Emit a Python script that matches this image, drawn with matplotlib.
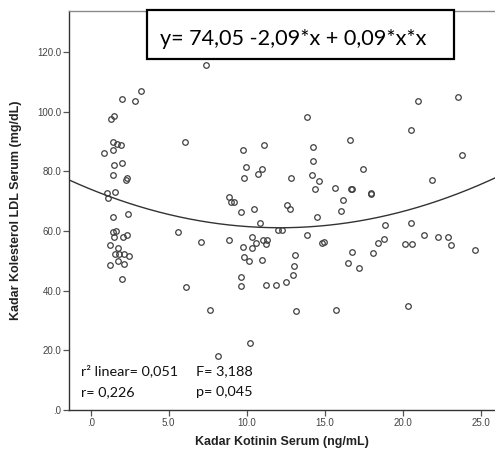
import matplotlib
matplotlib.use("Agg")
import matplotlib.pyplot as plt
from matplotlib.patches import Rectangle
import numpy as np

# --- data ---
kotinin = [
    3.2, 2.82, 1.99, 1.28, 1.51, 0.87, 1.41, 1.67, 1.96, 1.41,
    1.49, 1.99, 1.43, 2.24, 2.30, 1.06, 1.11, 1.58, 1.45, 2.41,
    1.41, 1.60, 1.51, 2.05, 2.33, 1.26, 1.73, 1.54, 1.83, 2.15,
    2.44, 1.77, 1.26, 2.15, 2.03,
    7.37, 6.06, 5.62, 6.09, 7.08, 7.66, 8.86, 8.14, 9.78, 9.83,
    10.12, 9.65, 9.61, 10.2, 9.78, 9.96, 9.85, 10.7, 10.96, 8.84,
    8.97, 9.18, 9.62, 10.47, 10.88, 10.36, 10.6, 10.36, 10.98, 11.07,
    11.28, 11.24, 11.11, 13.85, 14.23, 16.62, 14.27, 17.44, 12.82, 14.21,
    14.63, 14.4, 15.64, 16.71, 16.75, 17.95, 18.0, 16.19, 16.03, 12.56,
    12.78, 14.53, 12.03, 12.28, 13.87, 14.8, 14.97, 13.13, 13.03, 12.95,
    12.52, 11.86, 11.22, 13.16, 15.7, 16.77, 16.47, 17.18, 18.12, 18.44,
    18.82, 18.85, 20.55, 20.15, 20.58, 21.37, 22.26, 22.88, 23.08, 24.65,
    20.34, 21.0, 23.56, 20.53, 23.78, 21.88,
]
ldl = [
    106.9, 103.5, 104.1, 97.5, 98.5, 86.0, 89.7, 89.0, 88.9, 87.0,
    82.1, 82.6, 78.6, 77.2, 77.6, 72.6, 71.0, 73.0, 64.8, 65.6,
    59.7, 60.0, 58.1, 58.1, 58.5, 55.2, 54.4, 52.3, 52.3, 52.3,
    51.6, 50.0, 48.6, 48.8, 44.0,
    115.7, 89.9, 59.6, 41.1, 56.4, 33.5, 56.8, 18.2, 54.7, 51.2,
    49.9, 44.7, 41.5, 22.6, 87.1, 81.5, 77.6, 79.1, 80.6, 71.5,
    69.6, 69.7, 66.3, 67.4, 62.6, 58.1, 56.0, 54.3, 50.2, 56.8,
    56.8, 55.6, 88.7, 98.1, 88.2, 90.6, 83.4, 80.6, 77.6, 78.7,
    76.8, 73.9, 74.4, 73.9, 74.0, 72.6, 72.4, 70.4, 66.7, 68.6,
    67.2, 64.7, 60.3, 60.3, 58.6, 55.8, 56.2, 52.0, 48.2, 45.2,
    43.0, 42.0, 41.9, 33.3, 33.5, 52.9, 49.3, 47.7, 52.5, 56.1,
    57.2, 62.1, 62.5, 55.5, 55.5, 58.7, 58.1, 58.1, 55.2, 53.6,
    34.8, 103.7, 105.0, 93.9, 85.4, 77.2,
]

# quadratic fit curve as drawn (coefficients)
fit_a, fit_b, fit_c = 73.97, -2.127, 0.0877

x_ticks = [0, 5, 10, 15, 20, 25]
x_tick_labels = [".0", "5.0", "10.0", "15.0", "20.0", "25.0"]
y_ticks = [0, 20, 40, 60, 80, 100, 120]
y_tick_labels = [".0", "20.0", "40.0", "60.0", "80.0", "100.0", "120.0"]

equation_text = "y= 74,05 -2,09*x + 0,09*x*x"
stat_r2 = "r² linear= 0,051"
stat_r = "r= 0,226"
stat_F = "F= 3,188"
stat_p = "p= 0,045"

# --- figure ---
W, H = 495, 454
fig = plt.figure(figsize=(W / 100, H / 100), dpi=100)
ax = fig.add_axes([69 / W, (H - 410) / H, (W - 69) / W, (410 - 11) / H])

xmin, xmax = -1.39, 25.92
ymin, ymax = 0, 133.7
ax.set_xlim(xmin, xmax)
ax.set_ylim(ymin, ymax)

ax.plot(kotinin, ldl, linestyle="none", marker="o", markersize=4.0,
        markerfacecolor="none", markeredgecolor="#404040", markeredgewidth=0.9,
        zorder=3)

xs = np.linspace(xmin, xmax, 300)
ax.plot(xs, fit_a + fit_b * xs + fit_c * xs ** 2, color="#333333", lw=1.0, zorder=2)

for s in ["left", "bottom"]:
    ax.spines[s].set_color("#333333")
    ax.spines[s].set_linewidth(1.0)
ax.spines["top"].set_color("#8a8a8a")
ax.spines["top"].set_linewidth(1.0)
ax.spines["right"].set_visible(False)

tick_font = dict(family="Liberation Sans", size=7)
ax.set_xticks(x_ticks)
ax.set_xticklabels(x_tick_labels, **tick_font)
ax.set_yticks(y_ticks)
ax.set_yticklabels(y_tick_labels, **tick_font)
ax.tick_params(axis="both", direction="out", length=4, width=0.9,
               color="#555555", labelcolor="#444444", pad=1.5)

label_font = dict(family="Liberation Sans", size=9, weight="bold", color="#222222")
ax.set_xlabel("Kadar Kotinin Serum (ng/mL)", labelpad=6, **label_font)
ax.set_ylabel("Kadar Kolesterol LDL Serum (mg/dL)", labelpad=11, **label_font)

# equation box
box = Rectangle((147 / W, (H - 59) / H), (454 - 147) / W, (59 - 10) / H,
                transform=fig.transFigure, facecolor="white", edgecolor="black",
                linewidth=1.6, zorder=5)
fig.add_artist(box)
fig.text(160 / W, (H - 45) / H, equation_text, family="Lato", size=15.6,
         ha="left", va="baseline", color="black", zorder=6)

stat_font = dict(family="Lato", size=10.4, color="#111111", ha="left", va="baseline")
fig.text(81 / W, (H - 375) / H, stat_r2, **stat_font)
fig.text(81 / W, (H - 396) / H, stat_r, **stat_font)
fig.text(195.5 / W, (H - 375) / H, stat_F, **stat_font)
fig.text(195.5 / W, (H - 396) / H, stat_p, **stat_font)

fig.savefig("out.png", dpi=100, facecolor="white")
